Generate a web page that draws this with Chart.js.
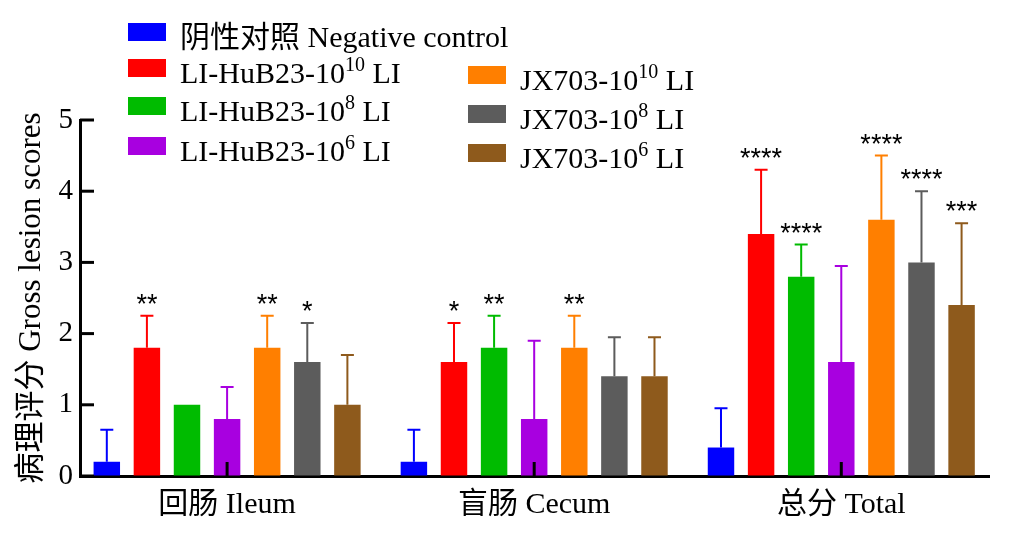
<!DOCTYPE html>
<html lang="zh">
<head>
  <meta charset="UTF-8">
  <title>Gross lesion scores</title>
  <script src="https://cdn.jsdelivr.net/npm/chart.js"></script>
  <style>
    body { margin: 0; background: #fff; }
    #wrap { position: relative; width: 1011px; height: 538px; }
    #legend { position: absolute; left: 0; top: 0; }
    .box { position: absolute; width: 38px; height: 18px; }
    .txt { position: absolute; line-height: 30px; white-space: nowrap; color: #000;
           font-family: "Liberation Serif", "Noto Sans CJK SC", serif; font-size: 30px; }
    .txt sup { font-size: 20px; vertical-align: baseline; position: relative; top: -12px; line-height: 0; }
  </style>
</head>
<body>

<div id="wrap">
  <canvas id="chart"></canvas>
  <div id="legend"></div>
</div>

<script>
  const categories = ['回肠 Ileum', '盲肠 Cecum', '总分 Total'];
  const seriesNames = ['阴性对照 Negative control', 'LI-HuB23-10^10 LI', 'LI-HuB23-10^8 LI', 'LI-HuB23-10^6 LI',
                       'JX703-10^10 LI', 'JX703-10^8 LI', 'JX703-10^6 LI'];
  const colors = ['#0000ff', '#ff0000', '#00bb00', '#a800e0', '#ff7f00', '#5c5c5c', '#8e5a1c'];

  // mean scores per group (Ileum, Cecum, Total)
  const negative   = [0.2, 0.2, 0.4];
  const hub23_10   = [1.8, 1.6, 3.4];
  const hub23_8    = [1.0, 1.8, 2.8];
  const hub23_6    = [0.8, 0.8, 1.6];
  const jx703_10   = [1.8, 1.8, 3.6];
  const jx703_8    = [1.6, 1.4, 3.0];
  const jx703_6    = [1.0, 1.4, 2.4];

  // upper end of error bar
  const negativeErr = [0.65, 0.65, 0.95];
  const hub23_10Err = [2.25, 2.15, 4.3];
  const hub23_8Err  = [1.0, 2.25, 3.25];
  const hub23_6Err  = [1.25, 1.9, 2.95];
  const jx703_10Err = [2.25, 2.25, 4.5];
  const jx703_8Err  = [2.15, 1.95, 4.0];
  const jx703_6Err  = [1.7, 1.95, 3.55];

  // significance marks
  const negativeSig = ['', '', ''];
  const hub23_10Sig = ['**', '*', '****'];
  const hub23_8Sig  = ['', '**', '****'];
  const hub23_6Sig  = ['', '', ''];
  const jx703_10Sig = ['**', '**', '****'];
  const jx703_8Sig  = ['*', '', '****'];
  const jx703_6Sig  = ['', '', '***'];

  const yTicks = [0, 1, 2, 3, 4, 5];

  const values = [negative, hub23_10, hub23_8, hub23_6, jx703_10, jx703_8, jx703_6];
  const errs = [negativeErr, hub23_10Err, hub23_8Err, hub23_6Err, jx703_10Err, jx703_8Err, jx703_6Err];
  const sigs = [negativeSig, hub23_10Sig, hub23_8Sig, hub23_6Sig, jx703_10Sig, jx703_8Sig, jx703_6Sig];

  // legend (html so the exponents can be superscripts)
  const legendPos = [[128, 23], [128, 59], [128, 97], [128, 137], [468, 66], [468, 105], [468, 144]];
  const legend = document.getElementById('legend');
  seriesNames.forEach((name, i) => {
    const box = document.createElement('div');
    box.className = 'box';
    box.style.left = legendPos[i][0] + 'px';
    box.style.top = legendPos[i][1] + 'px';
    box.style.background = colors[i];
    legend.appendChild(box);
    const txt = document.createElement('div');
    txt.className = 'txt';
    txt.style.left = (legendPos[i][0] + 52) + 'px';
    txt.style.top = (legendPos[i][1] - 1) + 'px';
    txt.innerHTML = name.replace(/\^(\d+)/, '<sup>$1</sup>');
    legend.appendChild(txt);
  });

  const errorBars = {
    id: 'errorBars',
    afterDatasetsDraw(chart) {
      const ctx = chart.ctx;
      const x = chart.scales.x;
      const y = chart.scales.y;
      ctx.save();
      chart.data.datasets.forEach((ds, i) => {
        const meta = chart.getDatasetMeta(i);
        meta.data.forEach((bar, j) => {
          const top = y.getPixelForValue(errs[i][j]);
          if (errs[i][j] > values[i][j]) {
            ctx.strokeStyle = colors[i];
            ctx.lineWidth = 2;
            ctx.beginPath();
            ctx.moveTo(bar.x, bar.y);
            ctx.lineTo(bar.x, top);
            ctx.moveTo(bar.x - 6.5, top);
            ctx.lineTo(bar.x + 6.5, top);
            ctx.stroke();
          }
          if (sigs[i][j]) {
            ctx.fillStyle = '#000';
            ctx.font = '27px "Liberation Sans", Arial, sans-serif';
            ctx.textAlign = 'center';
            ctx.textBaseline = 'alphabetic';
            ctx.fillText(sigs[i][j], bar.x, top - 3);
          }
        });
      });
      // inward ticks on both axes
      ctx.strokeStyle = '#000';
      ctx.lineWidth = 3;
      categories.forEach((c, k) => {
        const px = x.getPixelForValue(k);
        ctx.beginPath();
        ctx.moveTo(px, y.bottom);
        ctx.lineTo(px, y.bottom - 14);
        ctx.stroke();
      });
      yTicks.forEach(v => {
        const py = y.getPixelForValue(v);
        ctx.beginPath();
        ctx.moveTo(x.left, py);
        ctx.lineTo(x.left + 14, py);
        ctx.stroke();
      });
      ctx.restore();
    }
  };

  new Chart(document.getElementById('chart'), {
    type: 'bar',
    data: {
      datasets: seriesNames.map((name, i) => ({
        label: name,
        data: values[i].map((v, k) => ({ x: k, y: v })),
        backgroundColor: colors[i],
        barPercentage: 0.66,
        categoryPercentage: 0.914
      }))
    },
    options: {
      responsive: true,
      maintainAspectRatio: false,
      animation: false,
      layout: { padding: { top: 120, right: 22, left: 0, bottom: 0 } },
      plugins: { legend: { display: false }, tooltip: { enabled: false } },
      scales: {
        x: {
          type: 'linear',
          offset: false,
          min: -0.479,
          max: 2.481,
          afterBuildTicks(scale) { scale.ticks = categories.map((c, k) => ({ value: k })); },
          grid: { display: false, drawTicks: false, offset: false },
          border: { display: true, color: '#000', width: 3 },
          ticks: {
            color: '#000', padding: 11,
            font: { family: '"Liberation Serif", "Noto Sans CJK SC", serif', size: 30 },
            callback: v => categories[v]
          },
          afterFit(scale) { scale.height = 62; }
        },
        y: {
          min: 0,
          max: 5,
          afterBuildTicks(scale) { scale.ticks = yTicks.map(v => ({ value: v })); },
          grid: { drawOnChartArea: false, drawTicks: false },
          border: { display: true, color: '#000', width: 3 },
          ticks: { color: '#000', padding: 7, font: { family: '"Liberation Serif", serif', size: 29 } },
          title: {
            display: true,
            text: '病理评分 Gross lesion scores',
            color: '#000',
            padding: { top: 13, bottom: 0 },
            font: { family: '"Liberation Serif", "Noto Sans CJK SC", serif', size: 31 }
          },
          afterFit(scale) { scale.width = 80; }
        }
      }
    },
    plugins: [errorBars]
  });
</script>

</body>
</html>
